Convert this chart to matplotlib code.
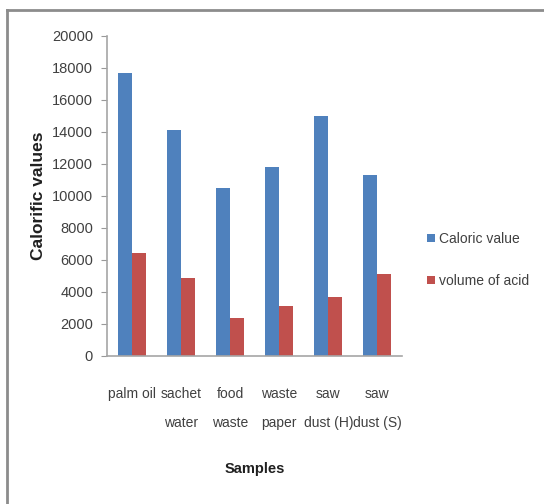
import matplotlib
matplotlib.use('Agg')
import matplotlib.pyplot as plt
import numpy as np
from matplotlib.lines import Line2D

samples = ['palm oil', 'sachet\nwater', 'food\nwaste', 'waste\npaper', 'saw\ndust (H)', 'saw\ndust (S)']
caloric_value = [17700, 14100, 10500, 11800, 15000, 11300]
volume_of_acid = [6450, 4900, 2400, 3100, 3700, 5100]
yticks = [0, 2000, 4000, 6000, 8000, 10000, 12000, 14000, 16000, 18000, 20000]

plt.rcParams['font.family'] = ['Liberation Sans', 'DejaVu Sans']

fig = plt.figure(figsize=(5.44, 5.04), dpi=100)
ax = fig.add_axes([0.1967, 0.2937, 0.5423, 0.6349])

x = np.arange(len(samples))
w = 0.285
ax.bar(x - w / 2, caloric_value, w, color='#4F81BD', label='Caloric value')
ax.bar(x + w / 2, volume_of_acid, w, color='#C0504D', label='volume of acid')

ax.set_xlim(-0.5, len(samples) - 0.5)
ax.set_ylim(0, 20000)
ax.set_yticks(yticks)
ax.set_yticklabels([str(t) for t in yticks], fontsize=10.5, color='#404040')
ax.tick_params(axis='y', length=4, color='#999999', pad=6)
ax.set_xticks(x)
ax.set_xticklabels(samples, fontsize=10, color='#404040', va='top', linespacing=2.4)
ax.tick_params(axis='x', length=0, pad=22)

for s in ['top', 'right']:
    ax.spines[s].set_visible(False)
for s in ['left', 'bottom']:
    ax.spines[s].set_color('#A6A6A6')
    ax.spines[s].set_linewidth(1.2)

ax.set_ylabel('Calorific values', fontsize=12.5, fontweight='bold',
              color='#202020', labelpad=4)
ax.set_xlabel('Samples', fontsize=10.5, fontweight='bold', color='#202020', labelpad=23)

ax.legend(loc='center left', bbox_to_anchor=(1.085, 0.3), frameon=False,
          fontsize=10, handlelength=0.55, handleheight=0.55, handletextpad=0.3,
          labelspacing=2.0, labelcolor='#404040', borderpad=0, borderaxespad=0)

# outer chart frame, top and left edges
fig.add_artist(Line2D([7 / 544, 1], [1 - 10 / 504, 1 - 10 / 504], color='#8C8C8C', lw=2))
fig.add_artist(Line2D([7 / 544, 7 / 544], [0, 1 - 10 / 504], color='#8C8C8C', lw=2))

fig.savefig('out.png', dpi=100)
